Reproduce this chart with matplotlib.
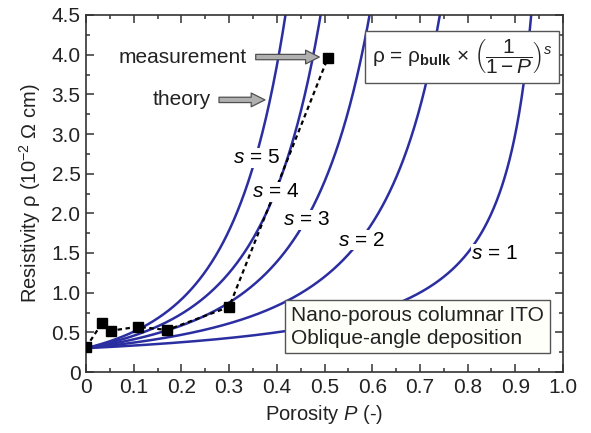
import numpy as np
import matplotlib
matplotlib.use("Agg")
import matplotlib.pyplot as plt
from matplotlib.patches import FancyArrowPatch
from matplotlib.ticker import MultipleLocator, FixedLocator, FixedFormatter

plt.rcParams['font.family'] = ['Liberation Sans', 'DejaVu Sans']
plt.rcParams['mathtext.fontset'] = 'custom'
plt.rcParams['mathtext.rm'] = 'Liberation Sans'
plt.rcParams['mathtext.it'] = 'Liberation Sans:italic'
plt.rcParams['mathtext.bf'] = 'Liberation Sans:bold'

# ---- data ----
rho_bulk = 0.3
s_values = [1, 2, 3, 4, 5]
meas_P = [0.0, 0.034, 0.052, 0.108, 0.17, 0.30, 0.507]
meas_rho = [0.31, 0.62, 0.52, 0.57, 0.53, 0.82, 3.96]
label_pos = {5: (0.358, 2.70), 4: (0.398, 2.27), 3: (0.463, 1.92),
             2: (0.577, 1.66), 1: (0.857, 1.49)}
xticks = [0, 0.1, 0.2, 0.3, 0.4, 0.5, 0.6, 0.7, 0.8, 0.9, 1.0]
xticklabels = ['0', '0.1', '0.2', '0.3', '0.4', '0.5', '0.6', '0.7', '0.8', '0.9', '1.0']
yticks = [0, 0.5, 1.0, 1.5, 2.0, 2.5, 3.0, 3.5, 4.0, 4.5]
yticklabels = ['0', '0.5', '1.0', '1.5', '2.0', '2.5', '3.0', '3.5', '4.0', '4.5']

fig = plt.figure(figsize=(5.91, 4.33), dpi=100)
ax = fig.add_axes([86/591, 1-372/433, 477/591, 357/433])

blue = '#2b2ea0'
P = np.linspace(0, 0.995, 800)
for s in s_values:
    ax.plot(P, rho_bulk * (1.0/(1.0-P))**s, color=blue, lw=1.8, zorder=2)

ax.plot(meas_P, meas_rho, color='black', ls=(0, (2.0, 1.6)), lw=1.6, zorder=3)
ax.plot(meas_P, meas_rho, ls='none', marker='s', ms=6.5, color='black', zorder=5)

for s, (lx, ly) in label_pos.items():
    ax.text(lx, ly, f'$s$ = {s}', fontsize=15, ha='center', va='center',
            bbox=dict(facecolor='white', edgecolor='none', pad=0.5), zorder=4)

ax.set_xlim(0, 1.0)
ax.set_ylim(0, 4.5)
ax.xaxis.set_major_locator(FixedLocator(xticks))
ax.xaxis.set_major_formatter(FixedFormatter(xticklabels))
ax.yaxis.set_major_locator(FixedLocator(yticks))
ax.yaxis.set_major_formatter(FixedFormatter(yticklabels))
ax.xaxis.set_minor_locator(MultipleLocator(0.05))
ax.yaxis.set_minor_locator(MultipleLocator(0.25))
ax.tick_params(which='both', direction='in', top=True, right=True, labelsize=15,
               width=1.1, color='#333333', labelcolor='#222222')
ax.tick_params(which='major', length=6, pad=4)
ax.tick_params(which='minor', length=3)
for sp in ax.spines.values():
    sp.set_linewidth(1.2)
    sp.set_color('#333333')

ax.set_xlabel('Porosity $P$ (-)', fontsize=14.5, labelpad=5, color='#222222')
ax.set_ylabel('Resistivity ρ (10$^{−2}$ Ω cm)', fontsize=14.5, labelpad=6, color='#222222')

# annotations
ax.text(0.337, 3.97, 'measurement', fontsize=15, ha='right', va='center', zorder=6,
        color='#222222')
ax.text(0.262, 3.43, 'theory', fontsize=15, ha='right', va='center', zorder=6,
        color='#222222')
arrow_style = 'simple,head_length=0.9,head_width=0.9,tail_width=0.35'
for (x0, x1, y) in [(0.35, 0.495, 3.97), (0.273, 0.381, 3.43)]:
    ar = FancyArrowPatch((x0, y), (x1, y), arrowstyle=arrow_style, mutation_scale=11,
                         facecolor='#b0b0b0', edgecolor='#505050', lw=0.9, zorder=6)
    ax.add_patch(ar)

ax.text(0.788, 3.97, r'ρ = ρ$_{\mathbf{bulk}}$ × $\left(\dfrac{1}{1-P}\right)^{s}$',
        fontsize=15, ha='center', va='center', zorder=6, color='#222222',
        bbox=dict(facecolor='white', edgecolor='#555555', lw=1.0, pad=5))

ax.text(0.43, 0.57, 'Nano-porous columnar ITO\nOblique-angle deposition', fontsize=15,
        ha='left', va='center', linespacing=1.25, zorder=6, color='#222222',
        bbox=dict(facecolor='#fffffa', edgecolor='#555555', lw=1.0, pad=4))

fig.savefig('out.png', dpi=100)
